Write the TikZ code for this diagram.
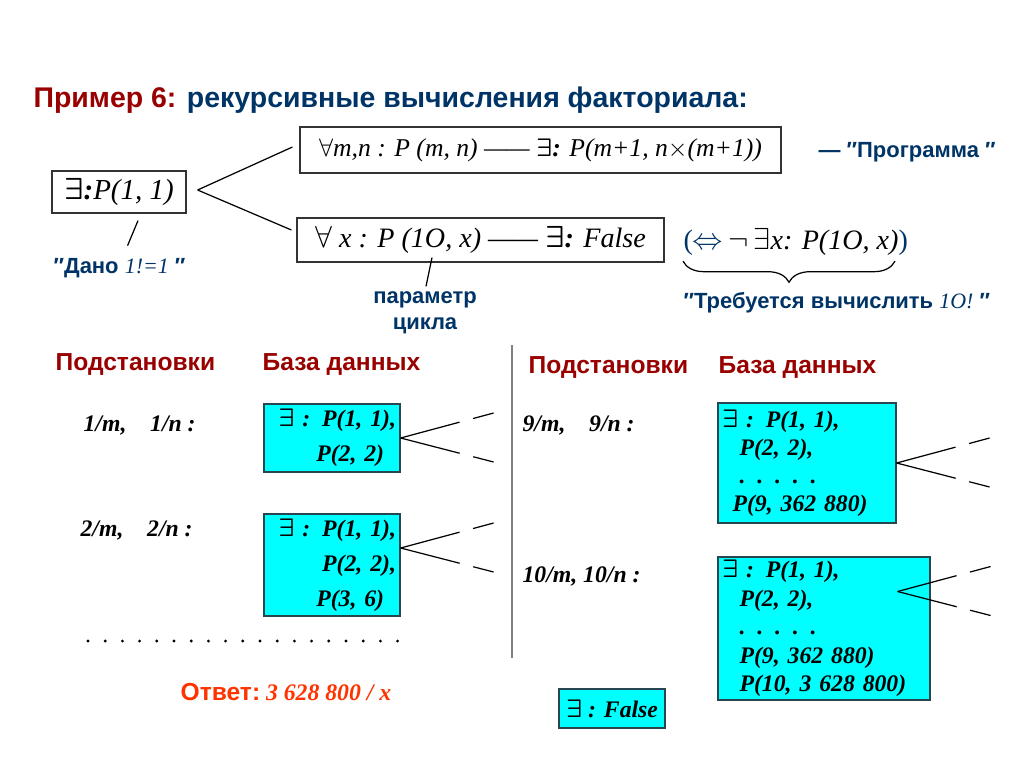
\documentclass[tikz,border=0pt]{standalone}
\usepackage{fontspec}
\usepackage{amsmath}
\setmainfont{Liberation Serif}
\setsansfont{Liberation Sans}
\usetikzlibrary{positioning,decorations.pathreplacing}
\definecolor{ttlred}{RGB}{153,0,0}
\definecolor{navy}{RGB}{0,51,102}
\definecolor{ansred}{RGB}{255,51,0}
\definecolor{dbcyan}{RGB}{0,255,255}
\definecolor{dbedge}{RGB}{40,70,80}

\begin{document}
\begin{tikzpicture}[x=0.02cm,y=-0.02cm,line width=0.7pt]
\tikzset{
  frm/.style={draw=black!80,inner sep=0pt,font=\fontsize{#1}{19}\selectfont\itshape},
  db/.style={draw=dbedge,fill=dbcyan,inner ysep=0pt,inner xsep=0.08cm},
  dbtxt/.style={font=\fontsize{13.5}{#1}\selectfont\bfseries\itshape},
  hd/.style={anchor=west,inner sep=0pt,text=ttlred,font=\fontsize{14}{16}\selectfont\sffamily\bfseries},
  note/.style={text=navy,inner sep=0pt,font=\fontsize{12.5}{14.7}\selectfont\sffamily\bfseries},
  subst/.style={anchor=west,inner sep=0pt,font=\fontsize{13.5}{16}\selectfont\bfseries\itshape},
  branch/.style={dash pattern=on 1.22cm off 0.28cm on 0.44cm}
}
\useasboundingbox (0,0) rectangle (1024,768);

% title
\node[anchor=west,inner sep=0pt,font=\fontsize{16.2}{19}\selectfont\sffamily\bfseries] (ttl) at (33,100)
  {\textcolor{ttlred}{Пример 6:} \textcolor{navy}{рекурсивные вычисления факториала:}};

% program, fact and goal
\node[frm=14.6,minimum width=9.62cm,minimum height=0.92cm] (prog) at (540.5,150)
  {$\forall$m,n : P (m, n) —— \textbf{$\boldsymbol\exists$:} P(m+1, n$\times$(m+1))};
\node[note,anchor=west] (prognote) at (818,152) {— ″Программа ″};
\node[frm=16.5,minimum width=2.68cm,minimum height=0.84cm] (given) at (119,192) {$\boldsymbol\exists$\textbf{:}P(1, 1)};
\node[frm=16,minimum width=7.34cm,minimum height=0.88cm] (goal) at (480.5,240)
  {$\forall$ x : P (1O, x) —— \textbf{$\boldsymbol\exists$:} False};
\draw ([shift={(11,-2)}]given.east) -- ([shift={(-7,-3)}]prog.west);
\draw ([shift={(11,-2)}]given.east) -- ([shift={(-5,-10)}]goal.west);

\node[note,anchor=west] (dano) at (53,268) {″Дано {\rmfamily\mdseries\itshape 1!=1} ″};
\draw ([shift={(19,7)}]given.south) -- ([shift={(8,-12)}]dano.north);
\node[note,align=center] (param) at (425,313) {параметр\\цикла};
\draw ([shift={(-48.5,-5)}]goal.south) -- ([shift={(1,-5)}]param.north);

\node[anchor=west,inner sep=0pt,font=\fontsize{16}{19}\selectfont\itshape] (eqv) at (683,242)
  {\textcolor{navy}{\upshape(}$\textcolor{navy}{\Leftrightarrow}\,\neg\,\exists$x: P(1O, x)\textcolor{navy}{\upshape)}};
\draw[decorate,decoration={brace,mirror,amplitude=12pt}]
  ([shift={(0,5)}]eqv.south west) -- ([shift={(212,5)}]eqv.south west);
\node[note,anchor=west] (need) at (683,303) {″Требуется вычислить {\rmfamily\mdseries\itshape 1O!} ″};

% separator
\draw[gray,line width=1.2pt] (512,345) -- (512,658);

% left half
\node[hd] (subL) at (55,364) {Подстановки};
\node[hd] (dbL) at (262,364) {База данных};
\node[subst] (s1) at (83,425) {1/m,\quad 1/n :};
\node[subst] (s2) at (80,530) {2/m,\quad 2/n :};
\node[db,dbtxt=20,text width=2.56cm,align=right,minimum height=1.36cm] (db1) at (332,438)
  {$\boldsymbol\exists$ : P(1, 1),\\P(2, 2)\phantom{,,}};
\node[db,dbtxt=20,text width=2.56cm,align=right,minimum height=2.04cm] (db2) at (332,565)
  {$\boldsymbol\exists$ : P(1, 1),\\P(2, 2),\\P(3, 6)\phantom{,,}};
\foreach \i in {0,...,18}
  \fill (88+17.2*\i,641) circle (0.032cm);
\node[anchor=west,inner sep=0pt,text=ansred] (ans) at (180,692)
  {{\sffamily\bfseries\fontsize{14}{16}\selectfont Ответ:} {\fontsize{13.5}{16}\selectfont\bfseries\itshape 3 628 800 / x}};

% right half
\node[hd] (subR) at (528,367) {Подстановки};
\node[hd] (dbR) at (718,367) {База данных};
\node[subst] (s9) at (522,425) {9/m,\quad 9/n :};
\node[subst] (s10) at (522,576) {10/m, 10/n :};
\node[db,dbtxt=16,text width=3.40cm,align=left,minimum height=2.40cm] (db3) at (807,463)
  {$\boldsymbol\exists$ : P(1, 1),\\\hspace*{10pt}P(2, 2),\\\hspace*{10pt}. . . . .\\\hspace*{6pt}P(9, 362 880)};
\node[db,dbtxt=16.2,text width=4.08cm,align=left,minimum height=2.86cm] (db4) at (824,628.5)
  {$\boldsymbol\exists$ : P(1, 1),\\\hspace*{10pt}P(2, 2),\\\hspace*{10pt}. . . . .\\\hspace*{10pt}P(9, 362 880)\\\hspace*{10pt}P(10, 3 628 800)};
\node[db,dbtxt=16,minimum width=2.12cm,minimum height=0.78cm] (fls) at (612,708.5) {$\boldsymbol\exists$ : False};

% branches
\foreach \b/\sx/\sy in {db1/0/0, db2/0/-17, db3/0/0, db4/-33/-37} {
  \draw[branch] ([shift={(\sx,\sy)}]\b.east) -- ++(93,-25);
  \draw[branch] ([shift={(\sx,\sy)}]\b.east) -- ++(93,24);
}
\end{tikzpicture}
\end{document}
